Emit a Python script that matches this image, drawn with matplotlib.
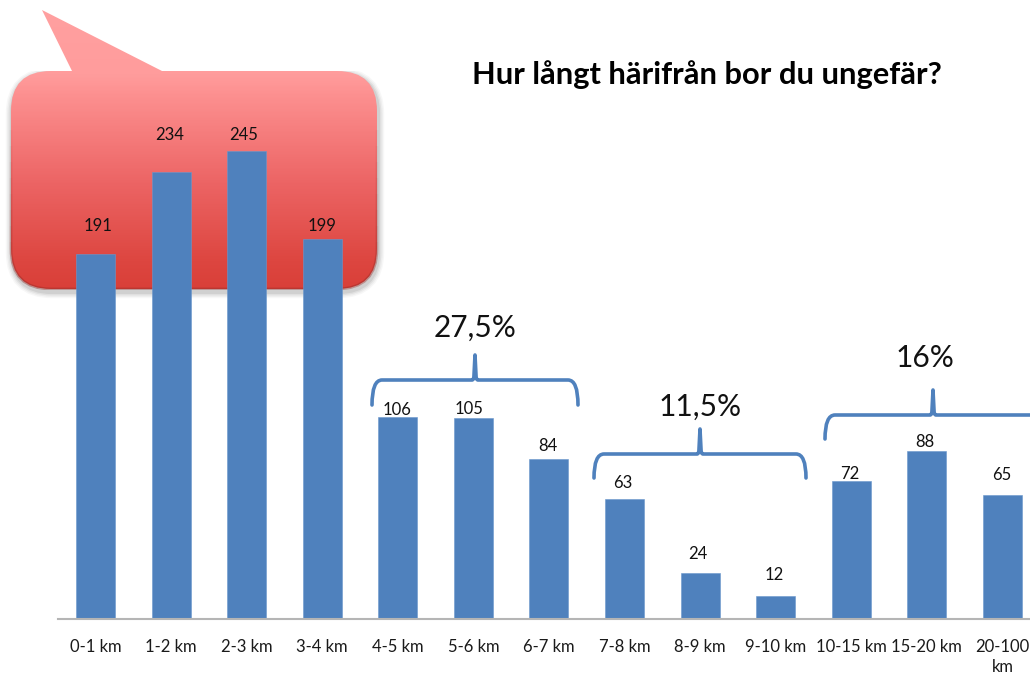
import numpy as np
import matplotlib
matplotlib.use("Agg")
import matplotlib.pyplot as plt
from matplotlib.path import Path
from matplotlib.patches import PathPatch, Rectangle
from matplotlib.colors import LinearSegmentedColormap

plt.rcParams['font.family'] = ['Lato', 'DejaVu Sans']

categories = ["0-1 km", "1-2 km", "2-3 km", "3-4 km", "4-5 km", "5-6 km", "6-7 km",
              "7-8 km", "8-9 km", "9-10 km", "10-15 km", "15-20 km", "20-100\nkm"]
values = [191, 234, 245, 199, 106, 105, 84, 63, 24, 12, 72, 88, 65]
title = "Hur långt härifrån bor du ungefär?"
group_labels = ["27,5%", "11,5%", "16%"]

W, H = 1030, 677
BLUE = "#4F81BD"
STEP = 75.58
X0 = 95.5
PX_PER_UNIT = 1.91
BASE = 619
fig = plt.figure(figsize=(W / 100, H / 100), dpi=100, facecolor="white")

# decoration layer in pixel coordinates
deco = fig.add_axes([0, 0, 1, 1], zorder=1)
deco.set_xlim(0, W)
deco.set_ylim(H, 0)
deco.axis("off")

M, L, C, Z = Path.MOVETO, Path.LINETO, Path.CURVE3, Path.CLOSEPOLY


def bubble(dx=0, dy=0):
    x0, x1, y0, y1, r = 11, 377, 71, 289, 40
    v = [(72, y0), (42, 10), (162, y0), (x1 - r, y0), (x1, y0), (x1, y0 + r), (x1, y1 - r), (x1, y1),
         (x1 - r, y1), (x0 + r, y1), (x0, y1), (x0, y1 - r), (x0, y0 + r), (x0, y0), (x0 + r, y0),
         (72, y0), (72, y0)]
    c = [M, L, L, L, C, C, L, C, C, L, C, C, L, C, C, L, Z]
    return Path([(a + dx, b + dy) for a, b in v], c)


# soft shadow, only below the upper part of the bubble
for lw, a in [(9, 0.03), (7, 0.04), (5, 0.05), (3, 0.07)]:
    shadow = PathPatch(bubble(1, 3), facecolor="none", edgecolor="#000000",
                       lw=lw, alpha=a, zorder=1, joinstyle="round")
    deco.add_patch(shadow)
    shadow.set_clip_path(Rectangle((0, 71), 400, 240, transform=deco.transData))

# vertical gradient of the speech bubble
cmap = LinearSegmentedColormap.from_list(
    "bub", [(0, "#FFA0A0"), (0.23, "#FF9C9C"), (0.3, "#FD9090"), (0.62, "#EC6464"), (0.9, "#DD4640"), (1, "#D93F38")])
grad = np.linspace(0, 1, 300).reshape(-1, 1)
im = deco.imshow(grad, cmap=cmap, extent=(0, 400, 290, 10), aspect="auto", zorder=2)
im.set_clip_path(PathPatch(bubble(), transform=deco.transData))
deco.set_xlim(0, W)
deco.set_ylim(H, 0)

# bevel: a darker rim that fades in towards the bottom edge
for y_start, alpha in zip(range(130, 290, 16), np.linspace(0.04, 0.40, 10)):
    rim = PathPatch(bubble(), facecolor="none", edgecolor="#8E2A26", lw=2.0, alpha=float(alpha),
                    zorder=3, joinstyle="round")
    deco.add_patch(rim)
    rim.set_clip_path(Rectangle((0, y_start), 400, 16, transform=deco.transData))


def draw_bracket(x0, x1, ytop, ybot, ytip):
    xm = (x0 + x1) / 2
    v = [(x0, ybot), (x0, ytop), (x0 + 10, ytop), (xm - 3, ytop), (xm - 1, ytop), (xm - 1, ytop - 5),
         (xm, ytip), (xm + 1, ytop - 5), (xm + 1, ytop), (xm + 3, ytop), (x1 - 10, ytop), (x1, ytop), (x1, ybot)]
    c = [M, C, C, L, C, C, L, L, C, C, L, C, C]
    deco.add_patch(PathPatch(Path(v, c), facecolor="none", edgecolor=BLUE, lw=2.6,
                             capstyle="round", joinstyle="round", zorder=6))


draw_bracket(372, 578, 380, 405, 355)
draw_bracket(594, 806, 454, 478, 429)
draw_bracket(825, 1041, 415, 439, 390)

# chart axes on top of the bubble
left = X0 - STEP / 2
ax = fig.add_axes([left / W, (H - BASE) / H, (W - left) / W, BASE / H], zorder=2)
ax.patch.set_alpha(0)
x = np.arange(len(values))
ax.bar(x, values, width=0.516, color=BLUE, edgecolor="#6A97CC", linewidth=0.4)
ax.set_xlim(-0.5, (W - X0) / STEP)
ax.set_ylim(0, BASE / PX_PER_UNIT)
ax.set_yticks([])
ax.set_xticks(x)
ax.set_xticklabels(categories, fontsize=12, color="#1a1a1a", linespacing=1.3)
ax.tick_params(axis="x", length=0, pad=14.5)
for s in ["top", "left", "right"]:
    ax.spines[s].set_visible(False)
ax.spines["bottom"].set_color("#B5B5B5")
ax.spines["bottom"].set_linewidth(1.5)

# value labels, offset from their bar tops by hand as in the reference (pixels)
offs = [(3, 20), (-1, 29), (-3, 8), (0, 5), (-1, -1), (-4, 1), (-1, 5), (-2, 8), (-2, 11), (-2, 13), (-2, -1), (-2, 1), (-1, 12)]
for xi, v, (ox, oy) in zip(x, values, offs):
    ax.annotate(str(v), (xi, v), xytext=(ox * 0.72, oy * 0.72), textcoords="offset points",
                ha="center", va="bottom", fontsize=12, color="#111111")

fig.text(707 / W, 1 - 75 / H, title, ha="center", va="center", fontsize=22.2, fontweight="bold", color="black")
for t, xp, yp in zip(group_labels, [475, 700, 925], [328, 407, 358]):
    fig.text(xp / W, 1 - yp / H, t, ha="center", va="center", fontsize=21.5, color="#111111")

fig.savefig("out.png", dpi=100)
